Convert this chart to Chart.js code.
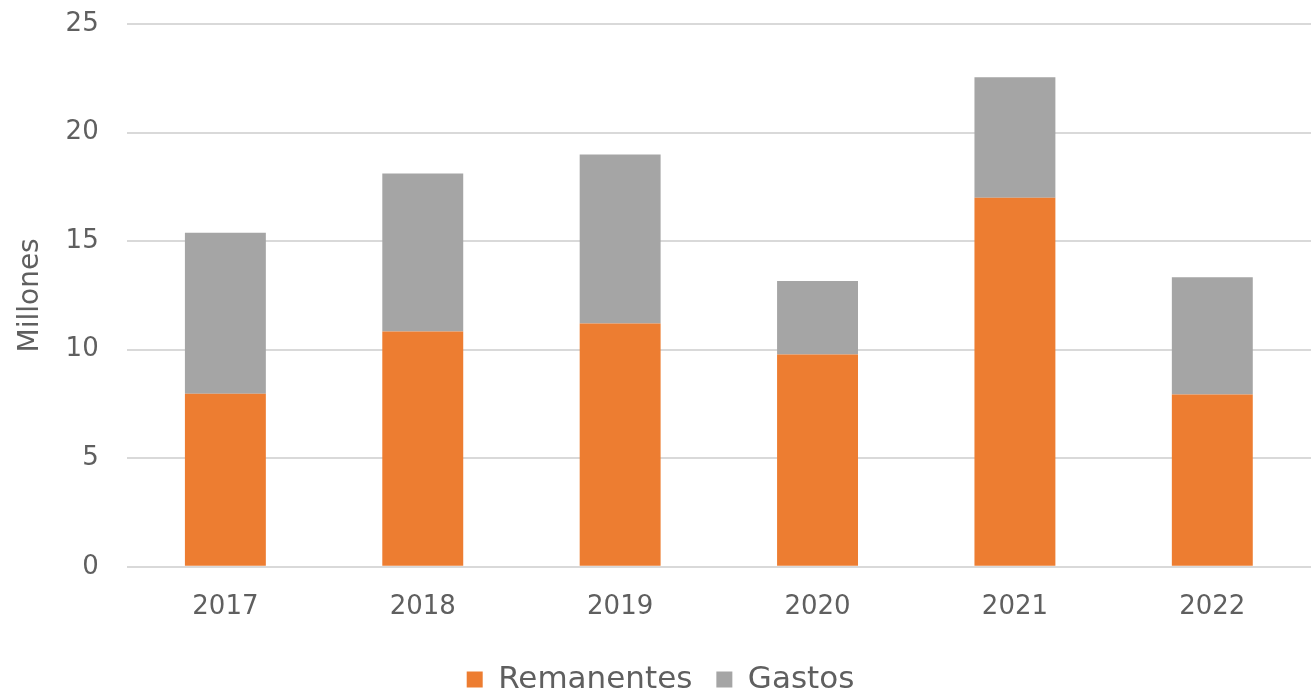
<!DOCTYPE html>
<html>
<head>
<meta charset="utf-8">
<script src="https://cdn.jsdelivr.net/npm/chart.js@4.4.0/dist/chart.umd.min.js"></script>
<style>
  html, body { margin: 0; padding: 0; background: #fff; }
  #wrap { width: 1311px; height: 690px; }
</style>
</head>
<body>
<div id="wrap"><canvas id="gastosChart" width="1311" height="690"></canvas></div>
<script>
const years = ["2017", "2018", "2019", "2020", "2021", "2022"];
const remanentes = [7.97, 10.84, 11.21, 9.78, 17.0, 7.93];
const gastos = [7.41, 7.27, 7.78, 3.38, 5.55, 5.41];

function manageGastosChart() {
    let ctx = document.getElementById("gastosChart").getContext('2d');
    let txt = "#5f5f5f";
    let fam = "'DejaVu Sans', sans-serif";
    new Chart(ctx, {
        type: 'bar',
        data: {
            labels: years,
            datasets: [{
                label: "Remanentes",
                data: remanentes,
                backgroundColor: "#ED7D31"
            }, {
                label: "Gastos",
                data: gastos,
                backgroundColor: "#A5A5A5"
            }]
        },
        options: {
            responsive: false,
            animation: false,
            layout: { padding: { top: 24, right: 0, left: 10, bottom: -15 } },
            datasets: { bar: { categoryPercentage: 1, barPercentage: 0.41 } },
            plugins: {
                tooltip: { enabled: false },
                legend: {
                    position: 'bottom',
                    labels: {
                        color: txt,
                        font: { family: fam, size: 31 },
                        boxWidth: 16,
                        boxHeight: 16,
                        padding: 24
                    }
                }
            },
            scales: {
                x: {
                    stacked: true,
                    grid: { display: false },
                    border: { display: false },
                    ticks: { color: txt, font: { family: fam, size: 26 }, padding: 17 }
                },
                y: {
                    stacked: true,
                    min: 0,
                    max: 25,
                    ticks: { stepSize: 5, color: txt, font: { family: fam, size: 26 }, padding: 5 },
                    grid: { color: "#D9D9D9", lineWidth: 2, drawTicks: true, tickLength: 23, tickColor: "rgba(0,0,0,0)" },
                    border: { display: false },
                    title: {
                        display: true,
                        text: "Millones",
                        color: txt,
                        font: { family: fam, size: 28 },
                        padding: { top: 4, bottom: 13 }
                    }
                }
            }
        }
    });
}

manageGastosChart();
</script>
</body>
</html>
